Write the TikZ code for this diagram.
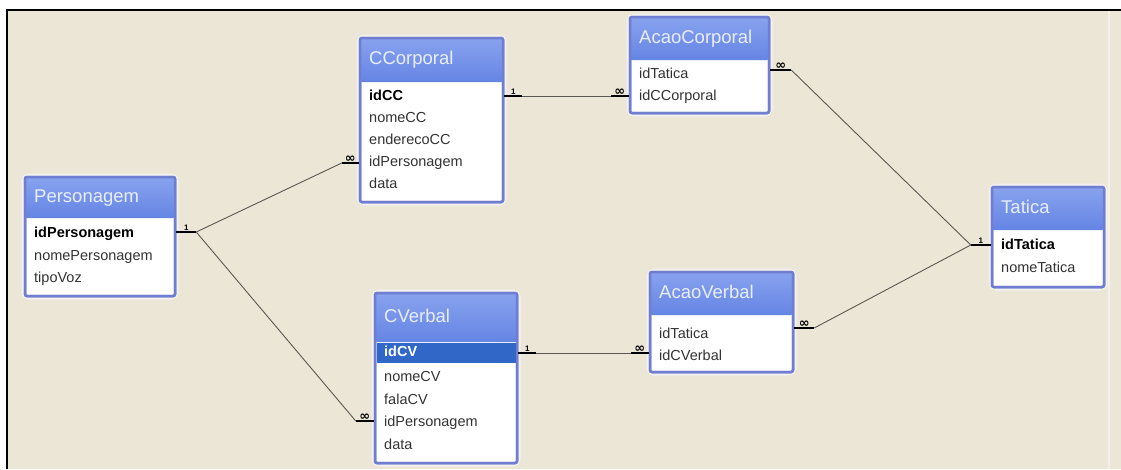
\documentclass[tikz,border=0pt]{standalone}
\usepackage{fontspec}
\setmainfont{Liberation Sans}
\newfontfamily\symf{DejaVu Sans}
\usetikzlibrary{fit}
\definecolor{bg}{HTML}{ECE6D7}
\definecolor{tbord}{HTML}{6F7ED0}
\definecolor{ttop}{HTML}{88A2EE}
\definecolor{tbot}{HTML}{6585E4}
\definecolor{rowc}{HTML}{333333}
\definecolor{sel}{HTML}{3168C8}
\definecolor{haloc}{HTML}{F3F1F0}
\definecolor{relc}{HTML}{5A5850}
\definecolor{titc}{HTML}{E8EEFF}
\tikzset{
  tblbox/.style={draw=tbord, line width=2.5pt, fill=white, inner sep=0pt, rounded corners=2pt},
  tblhalo/.style={draw=haloc, line width=7pt, rounded corners=4pt},
  titletxt/.style={anchor=west, text=titc, font=\fontsize{18.5}{18.5}\selectfont, inner sep=0pt, text height=13.5pt, text depth=4pt},
  rowbase/.style={anchor=west, inner sep=0pt, text height=10.5pt, text depth=3pt},
  rowtxt/.style={rowbase, text=rowc, font=\fontsize{14.5}{14.5}\selectfont},
  keytxt/.style={rowbase, text=black, font=\fontsize{14.5}{14.5}\selectfont\bfseries},
  seltxt/.style={rowbase, text=white, font=\fontsize{14.5}{14.5}\selectfont\bfseries},
  stub/.style={draw=black, line width=2pt},
  rel/.style={draw=relc, line width=0.9pt},
  card/.style={font=\fontsize{8}{8}\selectfont\bfseries, inner sep=1pt, above, text=black},
  cardinf/.style={font=\symf\fontsize{13}{13}\selectfont\bfseries, inner sep=0pt, above, text=black},
}
% #1 name, #2 x1, #3 y1, #4 x2, #5 y2, #6 title bottom, #7 title
\newcommand\mkTable[7]{%
  \draw[tblhalo] (#2,#3) rectangle (#4,#5);
  \node[tblbox, fit={(#2,#3) (#4,#5)}] (#1) {};
  \shade[top color=ttop, bottom color=tbot, rounded corners=2pt] (#2,#3) rectangle (#4,#6);
  \draw[titc, line width=0.8pt] (#2+1.5,#6) -- (#4-1.5,#6);
  \draw[tbord, line width=2.5pt, rounded corners=2pt] (#2,#3) rectangle (#4,#5);
  \node[titletxt] (#1-t) at (#2+9,{(#3+#6)/2}) {#7};
}
\begin{document}
\begin{tikzpicture}[x=1pt,y=-1pt]
\useasboundingbox (0,0) rectangle (1121,469);
\fill[white] (0,0) rectangle (1121,469);
\fill[bg] (7,10) rectangle (1121,469);
\draw[haloc, line width=2pt] (1109,11) -- (1109,469);
\draw[black, line width=2.6pt] (7,469) -- (7,10) -- (1121,10);

% tables
\mkTable{P}{25}{177}{175}{296}{218}{Personagem}
\node[keytxt] (P1) at (34,234) {idPersonagem};
\node[rowtxt] (P2) at (34,257) {nomePersonagem};
\node[rowtxt] (P3) at (34,279) {tipoVoz};

\mkTable{CC}{360}{38}{503}{202}{82}{CCorporal}
\node[keytxt] (CC1) at (369,97) {idCC};
\node[rowtxt] (CC2) at (369,119) {nomeCC};
\node[rowtxt] (CC3) at (369,141) {enderecoCC};
\node[rowtxt] (CC4) at (369,163) {idPersonagem};
\node[rowtxt] (CC5) at (369,185) {data};

\mkTable{AC}{630}{17}{769}{113}{60}{AcaoCorporal}
\node[rowtxt] (AC1) at (639,75) {idTatica};
\node[rowtxt] (AC2) at (639,97) {idCCorporal};

\mkTable{T}{992}{187}{1104}{287}{230}{Tatica}
\node[keytxt] (T1) at (1001,246) {idTatica};
\node[rowtxt] (T2) at (1001,269) {nomeTatica};

\mkTable{CV}{375}{293}{517}{463}{342}{CVerbal}
\fill[sel] (376.5,343) rectangle (515.5,363);
\node[seltxt] (CV1) at (384,353) {idCV};
\node[rowtxt] (CV2) at (384,378) {nomeCV};
\node[rowtxt] (CV3) at (384,401) {falaCV};
\node[rowtxt] (CV4) at (384,423) {idPersonagem};
\node[rowtxt] (CV5) at (384,446) {data};

\mkTable{AV}{650}{272}{793}{372}{315}{AcaoVerbal}
\node[rowtxt] (AV1) at (659,335) {idTatica};
\node[rowtxt] (AV2) at (659,357) {idCVerbal};

% connectors
\draw[stub] ([yshift=2pt]P.east |- P1) -- ++(20,0) node[card, midway] {1} coordinate (pS);
\draw[stub] (CC.west |- CC4) -- ++(-17,0) node[cardinf, midway] {∞} coordinate (ccS);
\draw[stub] ([yshift=2pt]CV.west |- CV4) -- ++(-18,0) node[cardinf, midway] {∞} coordinate (cvS);
\draw[rel] (pS) -- (ccS);
\draw[rel] (pS) -- (cvS);

\draw[stub] ([yshift=1pt]CC.east |- CC1) -- ++(18,0) node[card, midway] {1} coordinate (cc1S);
\draw[stub] ([yshift=1pt]AC.west |- AC2) -- ++(-18,0) node[cardinf, midway] {∞} coordinate (ac2S);
\draw[rel] (cc1S) -- (ac2S);

\draw[stub] ([yshift=5pt]AC.east |- AC1) -- ++(21,0) node[cardinf, midway] {∞} coordinate (ac1S);
\draw[stub] ([yshift=1pt]T.west |- T1) -- ++(-20,0) node[card, midway] {1} coordinate (tS);
\draw[rel] (ac1S) -- (tS);

\draw[stub] ([yshift=7pt]AV.east |- AV1) -- ++(20,0) node[cardinf, midway] {∞} coordinate (av1S);
\draw[rel] (av1S) -- (tS);

\draw[stub] (CV.east |- CV1) -- ++(18,0) node[card, midway] {1} coordinate (cv1S);
\draw[stub] ([yshift=4pt]AV.west |- AV2) -- ++(-18,0) node[cardinf, midway] {∞} coordinate (av2S);
\draw[rel] (cv1S) -- (av2S);
\end{tikzpicture}
\end{document}
